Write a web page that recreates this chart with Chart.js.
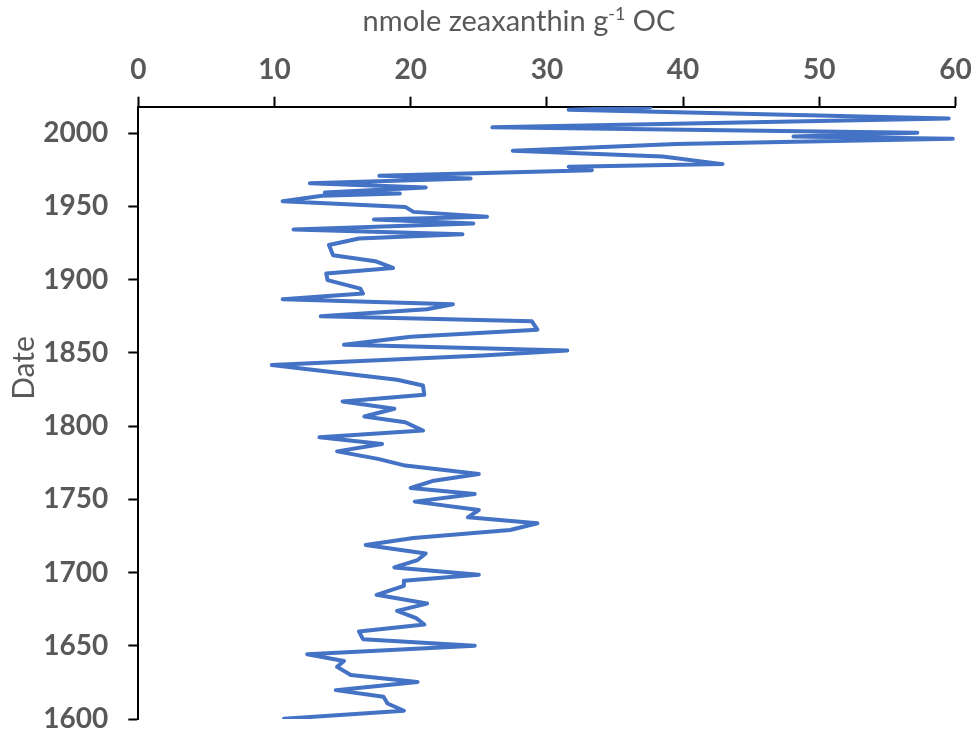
<!DOCTYPE html>
<html>
<head>
<meta charset="utf-8">
<script src="https://cdn.jsdelivr.net/npm/chart.js@4.4.1/dist/chart.umd.min.js"></script>
<style>
  html, body { margin: 0; padding: 0; background: #ffffff; }
  #wrap { width: 976px; height: 736px; position: relative; }
</style>
</head>
<body>
<div id="wrap"><canvas id="c" width="976" height="736"></canvas></div>
<script>
// Date (years) of each sample, top of core to bottom
const years = [
  2017.6, 2015.9, 2010.0, 2003.9, 2000.2, 1997.7, 1996.1, 1992.5, 1988.0, 1984.0,
  1978.8, 1977.0, 1974.7, 1970.8, 1969.0, 1965.8, 1962.9, 1959.4, 1958.8, 1957.2,
  1953.5, 1949.6, 1946.2, 1942.8, 1941.0, 1938.3, 1934.2, 1930.9, 1928.0, 1923.6,
  1916.6, 1912.5, 1907.9, 1904.1, 1899.6, 1893.8, 1890.4, 1886.5, 1883.1, 1879.7,
  1874.9, 1871.5, 1865.8, 1861.0, 1855.5, 1851.6, 1848.2, 1841.6, 1831.6, 1827.7,
  1821.4, 1816.8, 1811.8, 1806.5, 1802.6, 1796.9, 1792.3, 1787.8, 1782.7, 1777.6,
  1773.0, 1767.3, 1762.7, 1757.7, 1753.6, 1748.4, 1742.7, 1737.7, 1733.6, 1729.0,
  1723.6, 1718.8, 1713.0, 1708.5, 1703.5, 1698.5, 1694.4, 1690.9, 1684.8, 1678.8,
  1673.8, 1668.9, 1664.5, 1659.8, 1654.5, 1650.0, 1644.2, 1639.6, 1635.6, 1630.1,
  1625.3, 1619.7, 1615.2, 1610.6, 1605.6, 1600.2
];
// nmole zeaxanthin g-1 OC
const zeaxanthin = [
  37.6, 31.6, 59.5, 26.0, 57.2, 48.1, 59.8, 39.5, 27.5, 38.5,
  42.9, 31.6, 33.3, 17.7, 24.4, 12.6, 21.1, 13.7, 19.2, 13.5,
  10.6, 19.6, 20.2, 25.6, 17.3, 24.6, 11.4, 23.8, 16.2, 14.0,
  14.3, 17.4, 18.7, 13.8, 13.9, 16.3, 16.5, 10.6, 23.1, 21.2,
  13.4, 28.9, 29.3, 20.0, 15.1, 31.5, 25.3, 9.8, 19.0, 20.9,
  21.0, 15.0, 18.8, 16.6, 19.6, 20.9, 13.3, 17.9, 14.6, 17.6,
  19.6, 25.0, 21.7, 20.0, 24.7, 20.3, 25.0, 24.2, 29.3, 27.3,
  20.2, 16.7, 21.1, 20.5, 18.8, 25.0, 19.5, 19.5, 17.5, 21.2,
  19.0, 20.4, 21.0, 16.2, 16.5, 24.7, 12.4, 15.1, 14.6, 15.6,
  20.5, 14.5, 18.0, 18.3, 19.5, 10.7
];
const xTicks = [0, 10, 20, 30, 40, 50, 60];
const yTicks = [1600, 1650, 1700, 1750, 1800, 1850, 1900, 1950, 2000];
const xTitle = ['nmole zeaxanthin g', '-1', ' OC'];
const yTitle = 'Date';

const points = years.map((y, i) => ({ x: zeaxanthin[i], y: y }));

const FONT = 'Lato, "Open Sans", sans-serif';
const GREY = '#595959';

const titlePlugin = {
  id: 'titles',
  afterDraw(chart) {
    const ctx = chart.ctx;
    ctx.save();
    ctx.fillStyle = GREY;
    const big = '29px ' + FONT, small = '18px ' + FONT;
    ctx.font = big;
    const w1 = ctx.measureText(xTitle[0]).width;
    const w3 = ctx.measureText(xTitle[2]).width;
    ctx.font = small;
    const w2 = ctx.measureText(xTitle[1]).width;
    const total = w1 + w2 + w3;
    let x = 519 - total / 2;
    const base = 31;
    ctx.textBaseline = 'alphabetic';
    ctx.textAlign = 'left';
    ctx.font = big; ctx.fillText(xTitle[0], x, base); x += w1;
    ctx.font = small; ctx.fillText(xTitle[1], x, base - 11); x += w2;
    ctx.font = big; ctx.fillText(xTitle[2], x, base);
    ctx.translate(24, 368);
    ctx.rotate(-Math.PI / 2);
    ctx.textAlign = 'center';
    ctx.textBaseline = 'middle';
    ctx.font = '30px ' + FONT;
    ctx.fillText(yTitle, 0, 0);
    ctx.restore();
  }
};

function noPad(s) { s.paddingLeft = 0; s.paddingRight = 0; s.paddingTop = 0; s.paddingBottom = 0; }

new Chart(document.getElementById('c'), {
  type: 'scatter',
  data: {
    datasets: [{
      data: points,
      showLine: true,
      borderColor: '#4472C4',
      backgroundColor: '#4472C4',
      borderWidth: 4,
      pointRadius: 0,
      tension: 0,
      borderJoinStyle: 'round',
      borderCapStyle: 'round'
    }]
  },
  options: {
    responsive: false,
    animation: false,
    layout: { padding: { left: 0, right: 20.5, top: 0, bottom: 17 } },
    plugins: { legend: { display: false }, tooltip: { enabled: false } },
    scales: {
      x: {
        type: 'linear',
        position: 'top',
        min: xTicks[0],
        max: xTicks[xTicks.length - 1],
        afterBuildTicks: s => { s.ticks = xTicks.map(v => ({ value: v })); },
        afterFit: s => { s.height = 106.7; noPad(s); },
        grid: { display: true, drawOnChartArea: false, drawTicks: true, tickLength: 10, tickColor: '#000', tickWidth: 2 },
        border: { display: true, color: '#000', width: 2 },
        ticks: { color: GREY, font: { family: FONT, size: 28, weight: 'bold' }, padding: 10, maxRotation: 0,
                 callback: v => String(v) }
      },
      y: {
        type: 'linear',
        position: 'left',
        min: 1600,
        max: 2018,
        afterBuildTicks: s => { s.ticks = yTicks.map(v => ({ value: v })); },
        afterFit: s => { s.width = 138.3; noPad(s); },
        grid: { display: true, drawOnChartArea: false, drawTicks: true, tickLength: 10, tickColor: '#000', tickWidth: 2 },
        border: { display: true, color: '#000', width: 2 },
        ticks: { color: GREY, font: { family: FONT, size: 28, weight: 'bold' }, padding: 20,
                 callback: v => String(v) }
      }
    }
  },
  plugins: [titlePlugin]
});
</script>
</body>
</html>
